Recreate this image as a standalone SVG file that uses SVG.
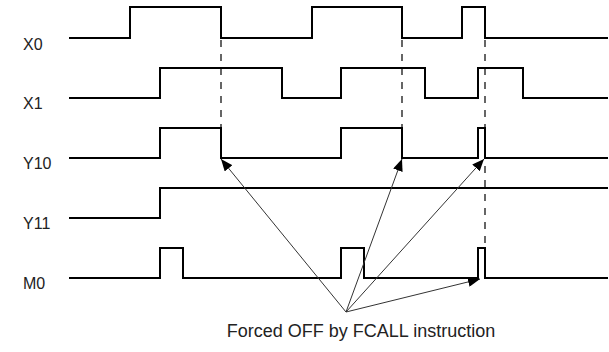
<svg xmlns="http://www.w3.org/2000/svg" width="609" height="352" viewBox="0 0 609 352">
<style>
.wave{fill:none;stroke:#000;stroke-width:2;stroke-linejoin:miter;stroke-linecap:square}
.dash{fill:none;stroke:#000;stroke-width:1.2;stroke-dasharray:7,7}
.arrow{fill:none;stroke:#333;stroke-width:1;marker-end:url(#ah)}
.lbl{font-family:"Liberation Sans",Arial,sans-serif;font-size:16px;fill:#222}
.note{font-family:"Liberation Sans",Arial,sans-serif;font-size:18px;fill:#222}
</style>
<defs>
<marker id="ah" markerUnits="userSpaceOnUse" markerWidth="14" markerHeight="10" refX="12" refY="5" orient="auto">
<path d="M0,0 L12,5 L0,10 Z" fill="#000"/>
</marker>
</defs>
<rect width="609" height="352" fill="#fff"/>
<g id="X0">
<text class="lbl" x="23" y="50">X0</text>
<path class="wave" d="M70,38 H130 V7 H221 V38 H312 V7 H402 V38 H462 V7 H485 V38 H607"/>
</g>
<g id="X1">
<text class="lbl" x="23" y="109">X1</text>
<path class="wave" d="M70,98 H160 V68 H282 V98 H341 V68 H425 V98 H478 V68 H523 V98 H607"/>
</g>
<g id="Y10">
<text class="lbl" x="23" y="169">Y10</text>
<path class="wave" d="M70,158 H160 V128 H221 V158 H341 V128 H402 V158 H478 V128 H485 V158 H607"/>
</g>
<g id="Y11">
<text class="lbl" x="23" y="229">Y11</text>
<path class="wave" d="M70,218 H160 V188 H607"/>
</g>
<g id="M0">
<text class="lbl" x="23" y="289">M0</text>
<path class="wave" d="M70,278 H160 V248 H183 V278 H341 V248 H364 V278 H478 V248 H485 V278 H607"/>
</g>
<g id="connectors">
<path class="dash" d="M221,40 V127"/>
<path class="dash" d="M402,40 V127"/>
<path class="dash" d="M485,40 V247"/>
<path class="arrow" d="M346,312 L221,159"/>
<path class="arrow" d="M346,312 L402,159"/>
<path class="arrow" d="M346,312 L484,159"/>
<path class="arrow" d="M346,312 L480,279"/>
</g>
<g id="note">
<text class="note" x="361" y="337" text-anchor="middle">Forced OFF by FCALL instruction</text>
</g>
</svg>
